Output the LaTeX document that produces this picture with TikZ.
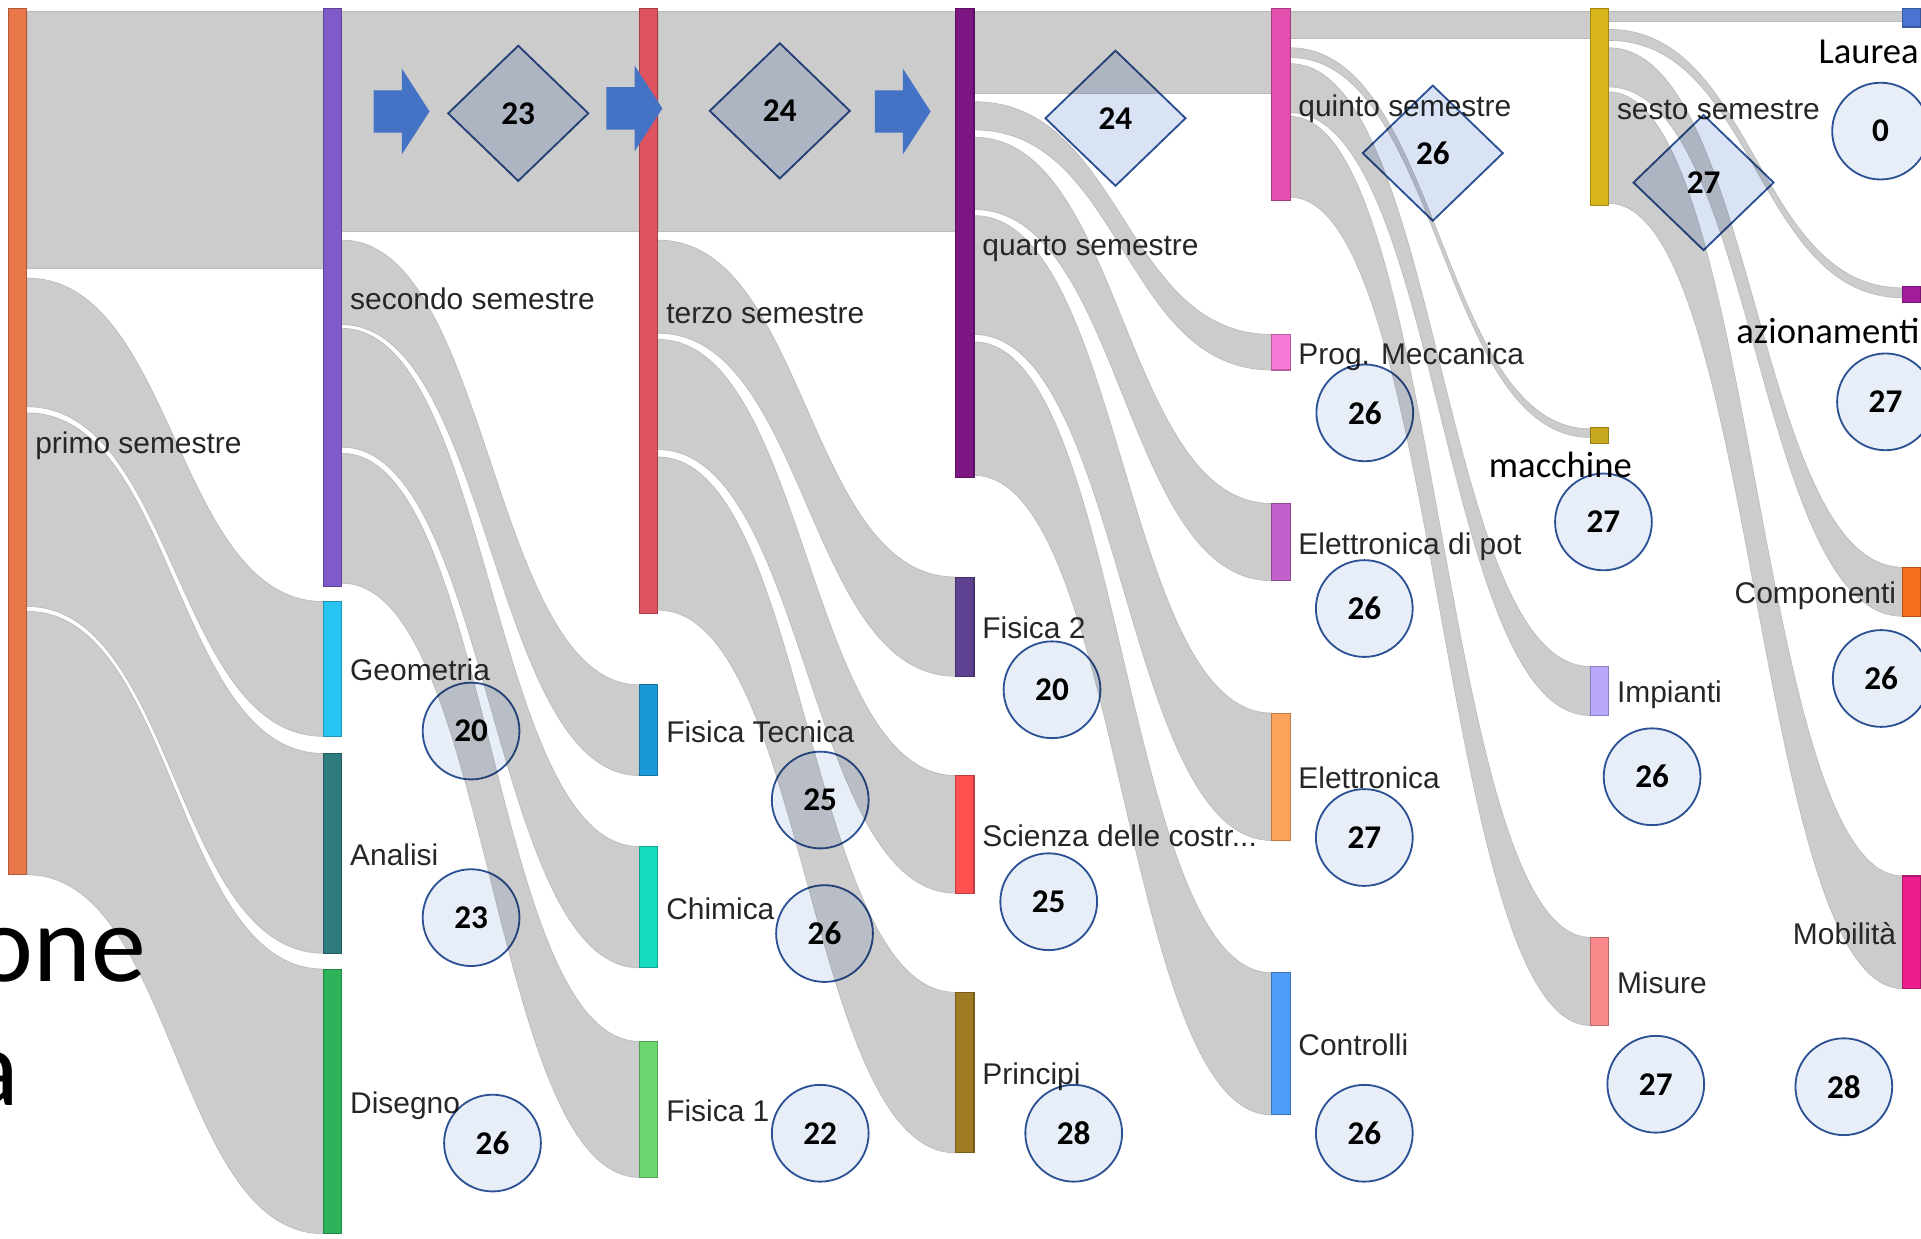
\documentclass[tikz,border=0pt]{standalone}
\usepackage{fontspec}
\setmainfont{Liberation Sans}
\newfontfamily\calibri{Carlito}
\usepackage{tikz}
\usetikzlibrary{positioning,calc,shapes.geometric,backgrounds}

\definecolor{cpri}{HTML}{E8784A}
\definecolor{csec}{HTML}{7E5BC8}
\definecolor{cgeo}{HTML}{29C5F2}
\definecolor{cana}{HTML}{2E7B7E}
\definecolor{cdis}{HTML}{2EB35A}
\definecolor{cter}{HTML}{DD5360}
\definecolor{cfte}{HTML}{1B98D8}
\definecolor{cchi}{HTML}{18DCC2}
\definecolor{cfiu}{HTML}{6AD86E}
\definecolor{cqua}{HTML}{7B1683}
\definecolor{cfid}{HTML}{5E4190}
\definecolor{csdc}{HTML}{FF5050}
\definecolor{cprc}{HTML}{9E7A23}
\definecolor{cqui}{HTML}{E24FAF}
\definecolor{cpme}{HTML}{F679D8}
\definecolor{cedp}{HTML}{C261CB}
\definecolor{cele}{HTML}{FBA35B}
\definecolor{ccon}{HTML}{4D9CF8}
\definecolor{cses}{HTML}{D9B71A}
\definecolor{cmac}{HTML}{C8A81E}
\definecolor{cimp}{HTML}{B8A7FA}
\definecolor{cmis}{HTML}{F88A8B}
\definecolor{clau}{HTML}{4A74D1}
\definecolor{cazi}{HTML}{A21B9B}
\definecolor{ccom}{HTML}{F56E1A}
\definecolor{cmob}{HTML}{EC1E8D}
\definecolor{votoblu}{HTML}{2F5597}
\definecolor{votofill}{HTML}{E8EEF8}
\definecolor{rombofill}{HTML}{DAE3F3}
\definecolor{frecciablu}{HTML}{4472C4}

\tikzset{font=\fontsize{13.9}{16}\selectfont}
\tikzset{
  barra/.style={rectangle, inner sep=0pt, outer sep=0pt, minimum width=3mm,
    anchor=north west, line width=0.5pt},
  etich/.style={inner sep=0pt, text height=0.716em, text depth=0pt, text=black!85,
    yshift=-0.7mm},
  flusso/.style={fill=black!20, draw=black!27, line width=0.3pt},
  voto/.style={circle, draw=votoblu, line width=0.85pt, fill=votofill,
    minimum size=15.8mm, inner sep=0pt,
    font=\calibri\bfseries\fontsize{15.4}{18}\selectfont},
  rombo/.style={diamond, draw=votoblu, line width=0.85pt, fill=rombofill,
    minimum width=23mm, minimum height=22.2mm, inner sep=0pt,
    font=\calibri\bfseries\fontsize{15.4}{18}\selectfont},
  freccia/.style={fill=frecciablu},
  testo/.style={inner sep=0pt, anchor=base west, font=\calibri\fontsize{17}{20}\selectfont}
}

\newcommand\sembar[5]{%
  \node[barra, fill=#5, draw=#5!75!black, minimum height={(#4-#3)*0.2mm}] (#1) at (#2,#3) {};}
\newcommand\flusso[6]{%
  \begin{scope}[on background layer]
    \coordinate (fm) at ($(#1.east)!0.5!(#2.west)$);
    \path[flusso] (#1.east |- 0,#3) .. controls (fm |- 0,#3) and (fm |- 0,#5) .. (#2.west |- 0,#5)
      -- (#2.west |- 0,#6) .. controls (fm |- 0,#6) and (fm |- 0,#4) .. (#1.east |- 0,#4) -- cycle;
  \end{scope}}

\begin{document}
\begin{tikzpicture}[x=0.2mm,y=-0.2mm]
  \useasboundingbox (0,0) rectangle (1568,1011);
  \clip (0,0) rectangle (1568,1011);

  % semestri ed esami
  \sembar{pri}{7}{7}{714}{cpri}
  \sembar{sec}{264}{7}{479}{csec}
  \sembar{geo}{264}{491}{601}{cgeo}
  \sembar{ana}{264}{615}{778}{cana}
  \sembar{dis}{264}{791}{1007}{cdis}
  \sembar{ter}{522}{7}{501}{cter}
  \sembar{fte}{522}{559}{633}{cfte}
  \sembar{chi}{522}{691}{790}{cchi}
  \sembar{fiu}{522}{850}{961}{cfiu}
  \sembar{qua}{780}{7}{390}{cqua}
  \sembar{fid}{780}{471}{552}{cfid}
  \sembar{sdc}{780}{633}{729}{csdc}
  \sembar{prc}{780}{810}{941}{cprc}
  \sembar{qui}{1038}{7}{164}{cqui}
  \sembar{pme}{1038}{273}{302}{cpme}
  \sembar{edp}{1038}{411}{474}{cedp}
  \sembar{ele}{1038}{582}{686}{cele}
  \sembar{con}{1038}{794}{910}{ccon}
  \sembar{ses}{1298}{7}{168}{cses}
  \sembar{mac}{1298}{349}{362}{cmac}
  \sembar{imp}{1298}{544}{584}{cimp}
  \sembar{mis}{1298}{765}{837}{cmis}
  \sembar{lau}{1553}{7}{22}{clau}
  \sembar{azi}{1553}{234}{247}{cazi}
  \sembar{com}{1553}{463}{503}{ccom}
  \sembar{mob}{1553}{715}{807}{cmob}

  \foreach \s/\t/\a/\b/\c/\d in {pri/sec/9/219/9/219, sec/ter/9/189/9/189,
      ter/qua/9/189/9/189, qua/qui/9/76/9/76, qui/ses/9/31/9/31, ses/lau/9/17/9/17,
      pri/geo/227/332/491/601, pri/ana/337/495/615/778, pri/dis/499/714/791/1007,
      sec/fte/196/265/559/633, sec/chi/268/365/691/790, sec/fiu/370/476/850/961,
      ter/fid/196/272/471/552, ter/sdc/277/367/633/729, ter/prc/373/498/810/941,
      qua/pme/83/106/273/302, qua/edp/112/171/411/474, qua/ele/176/273/582/686,
      qua/con/279/388/794/910,
      qui/mac/39/47/350/357, qui/imp/52/92/544/584, qui/mis/95/161/765/837,
      ses/azi/24/33/235/243, ses/com/39/71/463/503, ses/mob/75/166/715/807}
    \flusso{\s}{\t}{\a}{\b}{\c}{\d};

  \foreach \n/\txt in {pri/primo semestre, sec/secondo semestre, geo/Geometria,
      ana/Analisi, dis/Disegno, ter/terzo semestre, fte/Fisica Tecnica, chi/Chimica,
      fiu/Fisica 1, qua/quarto semestre, fid/Fisica 2,
      prc/Principi, qui/quinto semestre, pme/Prog. Meccanica, edp/Elettronica di pot,
      ele/Elettronica, con/Controlli, ses/sesto semestre, imp/Impianti, mis/Misure}
    \node[etich, right=1.3mm of \n] (l\n) {\txt};
  \node[etich, right=1.3mm of sdc] (lsdc) {Scienza delle costr...};
  \node[etich, left=1mm of com] (lcom) {Componenti};
  \node[etich, left=1mm of mob] (lmob) {Mobilità};

  \begin{scope}[blend mode=multiply]
    \foreach \rx/\ry/\v [count=\i] in {423/92.5/23, 636.5/90.5/24, 910.5/96.5/24,
        1169.5/125/26, 1390.5/149/27}
      \node[rombo] (rombo\i) at (\rx,\ry) {\v};
    \foreach \cx/\cy/\v [count=\i] in {384.5/596.7/20, 384.5/749/23, 402/933/26,
        669.5/653/25, 673/762/26, 669.5/925/22, 858.7/563/20, 856/736/25, 876.4/925/28,
        1114/337/26, 1113.6/496.7/26, 1113.6/683.6/27, 1113.6/925/26,
        1308.8/426/27, 1348.5/634/26, 1351.5/885/27,
        1535/107/0, 1539/328/27, 1535.5/553.8/26, 1505/887/28}
      \node[voto] (voto\i) at (\cx,\cy) {\v};
  \end{scope}

  \foreach \ax/\ay in {305/91, 495/88.5, 714/91}
    \fill[freccia] (\ax,\ay-17.3) -- ++(23,0) -- ++(0,-17.7) -- ++(22.6,35)
      -- ++(-22.6,35) -- ++(0,-17.7) -- ++(-23,0) -- cycle;

  \node[testo] (tmac) at (1215,390) {macchine};
  \node[testo] (tlau) at (1484,52) {Laurea};
  \node[testo] (tazi) at (1417,280) {azionamenti};
  \node[testo, font=\calibri\fontsize{51}{60}\selectfont] (tone) at (-20,801) {one};
  \node[testo, font=\calibri\fontsize{51}{60}\selectfont] (ta) at (-28,902) {a};
\end{tikzpicture}
\end{document}
